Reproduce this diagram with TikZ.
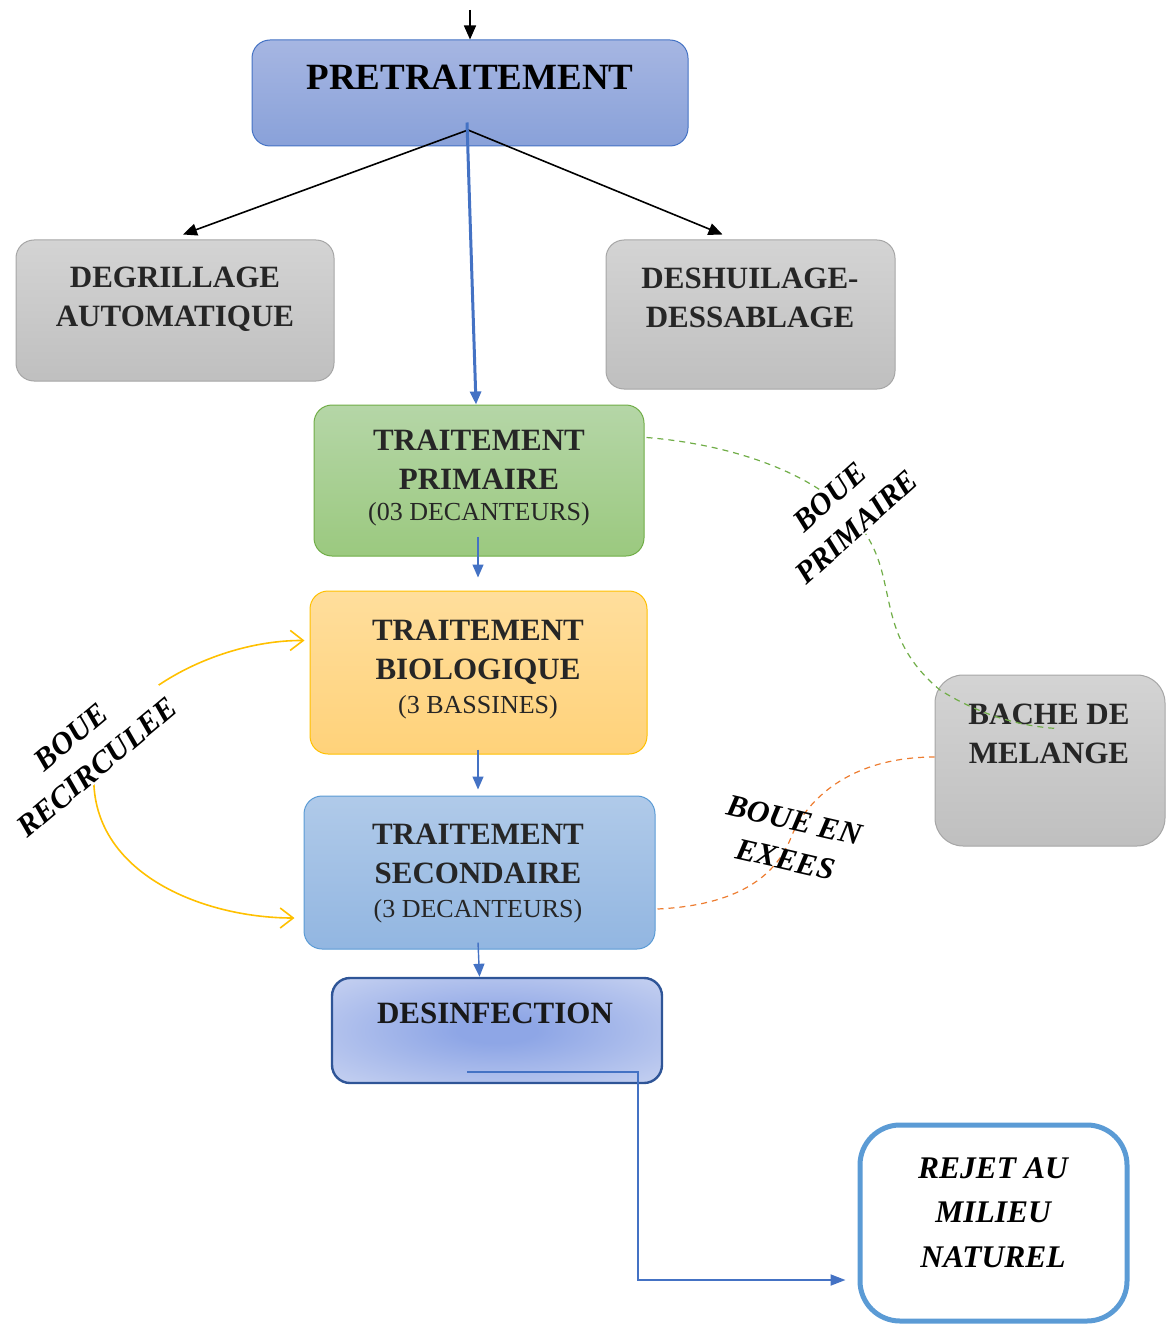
\documentclass[tikz,border=0pt]{standalone}
\usepackage{fontspec}
\setmainfont{Liberation Serif}
\usetikzlibrary{arrows.meta,calc}
\definecolor{txt}{HTML}{262626}
\definecolor{bl}{HTML}{4472C4}
\definecolor{grn}{HTML}{70AD47}
\definecolor{org}{HTML}{ED7D31}
\definecolor{ylw}{HTML}{FFC000}
\definecolor{dcin}{HTML}{8EA6E6}
\definecolor{dcout}{HTML}{DDE3F5}
\pgfdeclareradialshading{desrad}{\pgfpoint{0bp}{0bp}}{color(0bp)=(dcin); color(6bp)=(dcin); color(48bp)=(dcout); color(50bp)=(dcout)}
\begin{document}
\begin{tikzpicture}[x=1pt,y=-1pt,
  box/.style={rounded corners=18pt, line width=1pt, inner sep=0pt},
  graybox/.style={box, draw=black!35, top color=black!17, bottom color=black!25},
  bt/.style={font=\fontsize{31}{39}\selectfont\bfseries, text=txt, align=center, inner sep=0pt},
  st/.style={font=\fontsize{26}{32}\selectfont, text=txt, anchor=base, inner sep=0pt},
  lab/.style={font=\fontsize{31}{40}\selectfont\bfseries\itshape, align=center, fill=white, inner sep=1pt},
  blk/.style={line width=1.6pt, -{Triangle[length=14pt,width=12pt]}},
  bla/.style={line width=1.4pt, draw=bl, -{Triangle[length=13pt,width=11pt]}, color=bl}]
\useasboundingbox (0,0) rectangle (1173,1324);

% boxes
\node[box, draw=bl, top color={rgb,255:red,166;green,182;blue,226}, bottom color={rgb,255:red,137;green,161;blue,217}, minimum width=436pt, minimum height=106pt] (pre) at (470,93) {};
\node[graybox, minimum width=318pt, minimum height=141pt] (degr) at (175,310.5) {};
\node[graybox, minimum width=289pt, minimum height=149pt] (desh) at (750.5,314.5) {};
\node[box, draw=grn, top color={rgb,255:red,181;green,214;blue,167}, bottom color={rgb,255:red,155;green,201;blue,127}, minimum width=330pt, minimum height=151pt] (prim) at (479,480.5) {};
\node[box, draw=ylw, top color={rgb,255:red,255;green,222;blue,156}, bottom color={rgb,255:red,255;green,210;blue,122}, minimum width=337pt, minimum height=163pt] (bio) at (478.5,672.5) {};
\node[box, draw={rgb,255:red,91;green,155;blue,213}, top color={rgb,255:red,176;green,202;blue,233}, bottom color={rgb,255:red,146;green,182;blue,225}, minimum width=351pt, minimum height=153pt] (sec) at (479.5,872.5) {};
\node[box, draw={rgb,255:red,47;green,85;blue,151}, line width=2.4pt, shading=desrad, minimum width=330pt, minimum height=105pt] (des) at (497,1030.5) {};
\node[graybox, rounded corners=28pt, minimum width=230pt, minimum height=171pt] (bache) at (1050,760.5) {};
\node[box, rounded corners=40pt, draw={rgb,255:red,91;green,155;blue,213}, line width=5pt, fill=white, minimum width=267pt, minimum height=196pt] (rejet) at (993.5,1223) {};

% texts
\node[font=\fontsize{37}{44}\selectfont\bfseries, anchor=base, inner sep=0pt] (pret) at (470,90) {PRETRAITEMENT};
\node[bt] (degrt) at (175,299) {DEGRILLAGE\\AUTOMATIQUE};
\node[bt] (desht) at (750,298) {DESHUILAGE-\\DESSABLAGE};
\node[bt] (primt) at (479,460) {TRAITEMENT\\PRIMAIRE};
\node[st] (prims) at (479,520.5) {(03 DECANTEURS)};
\node[bt] (biot) at (478,652) {TRAITEMENT\\BIOLOGIQUE};
\node[st] (bios) at (478,713.5) {(3 BASSINES)};
\node[bt] (sect) at (478,853.5) {TRAITEMENT\\SECONDAIRE};
\node[st] (secs) at (478,917.5) {(3 DECANTEURS)};
\node[font=\fontsize{31}{39}\selectfont\bfseries, text=black!90, anchor=base, inner sep=0pt] (dest) at (495,1023.5) {DESINFECTION};
\node[bt] (bachet) at (1049,733.5) {BACHE DE\\MELANGE};
\node[font=\fontsize{31.5}{44.5}\selectfont\bfseries\itshape, align=center, inner sep=0pt] (rejt) at (993,1212.5) {REJET AU\\MILIEU\\NATUREL};

% top arrows
\coordinate (in) at (470,10);
\draw[blk] (in) -- (pre.north);
\coordinate (split) at (468,130);
\draw[blk] (split) -- ($(degr.north)+(8,-5)$);
\draw[blk] (split) -- ($(desh.north)+(-28,-5)$);
\draw[line width=3pt, color=bl, -{Triangle[length=13pt,width=11pt]}] ($(pre.south)+(-3,-24)$) -- ($(prim.north)+(-3,0)$);

% vertical chain
\draw[bla] ($(prim.south)+(-1,-20)$) -- ($(bio.north)+(-0.5,-13)$);
\draw[bla] ($(bio.south)+(-0.5,-5)$) -- ($(sec.north)+(-1.5,-6)$);
\draw[bla] ($(sec.south)+(-1.5,-7)$) -- (des.north -| sec.south);
\draw[line width=2pt, color=bl, -{Triangle[length=15pt,width=11pt]}] ($(des.south)+(-30,-12)$) -| ($(rejet.west)+(-220,57)$) -- ($(rejet.west)+(-12,57)$);

% recirculation
\draw[line width=1.6pt, color=ylw, {Straight Barb[length=13pt,width=20pt]}-{Straight Barb[length=13pt,width=20pt]}]
  ($(bio.west)+(-5,-32)$) .. controls (220,640) and (120,690) .. (95,760)
  .. controls (80,870) and (200,918) .. ($(sec.west)+(-9,45.5)$);
\node[lab, rotate=40] (l1) at (84,752) {BOUE\\RECIRCULEE};

% boue primaire
\draw[line width=1.2pt, color=grn, dash pattern=on 6pt off 5pt]
  ($(prim.east)+(2,-43)$) .. controls (740,445) and (840,480) .. (872,545)
  .. controls (895,590) and (880,640) .. (940,690)
  .. controls (975,712) and (1015,726) .. ($(bachet.center)+(8,-5)$);
\node[lab, rotate=42] (l2) at (843,512) {BOUE\\PRIMAIRE};

% boue en exces
\draw[line width=1.2pt, color=org, dash pattern=on 6pt off 5pt]
  ($(sec.east)+(2,36.5)$) .. controls (740,905) and (775,875) .. (790,840)
  .. controls (805,800) and (850,757) .. ($(bache.west)+(0,-3.5)$);
\node[lab, rotate=-13, fill=none] (l3) at (790,840) {BOUE EN\\EXEES};
\end{tikzpicture}
\end{document}
